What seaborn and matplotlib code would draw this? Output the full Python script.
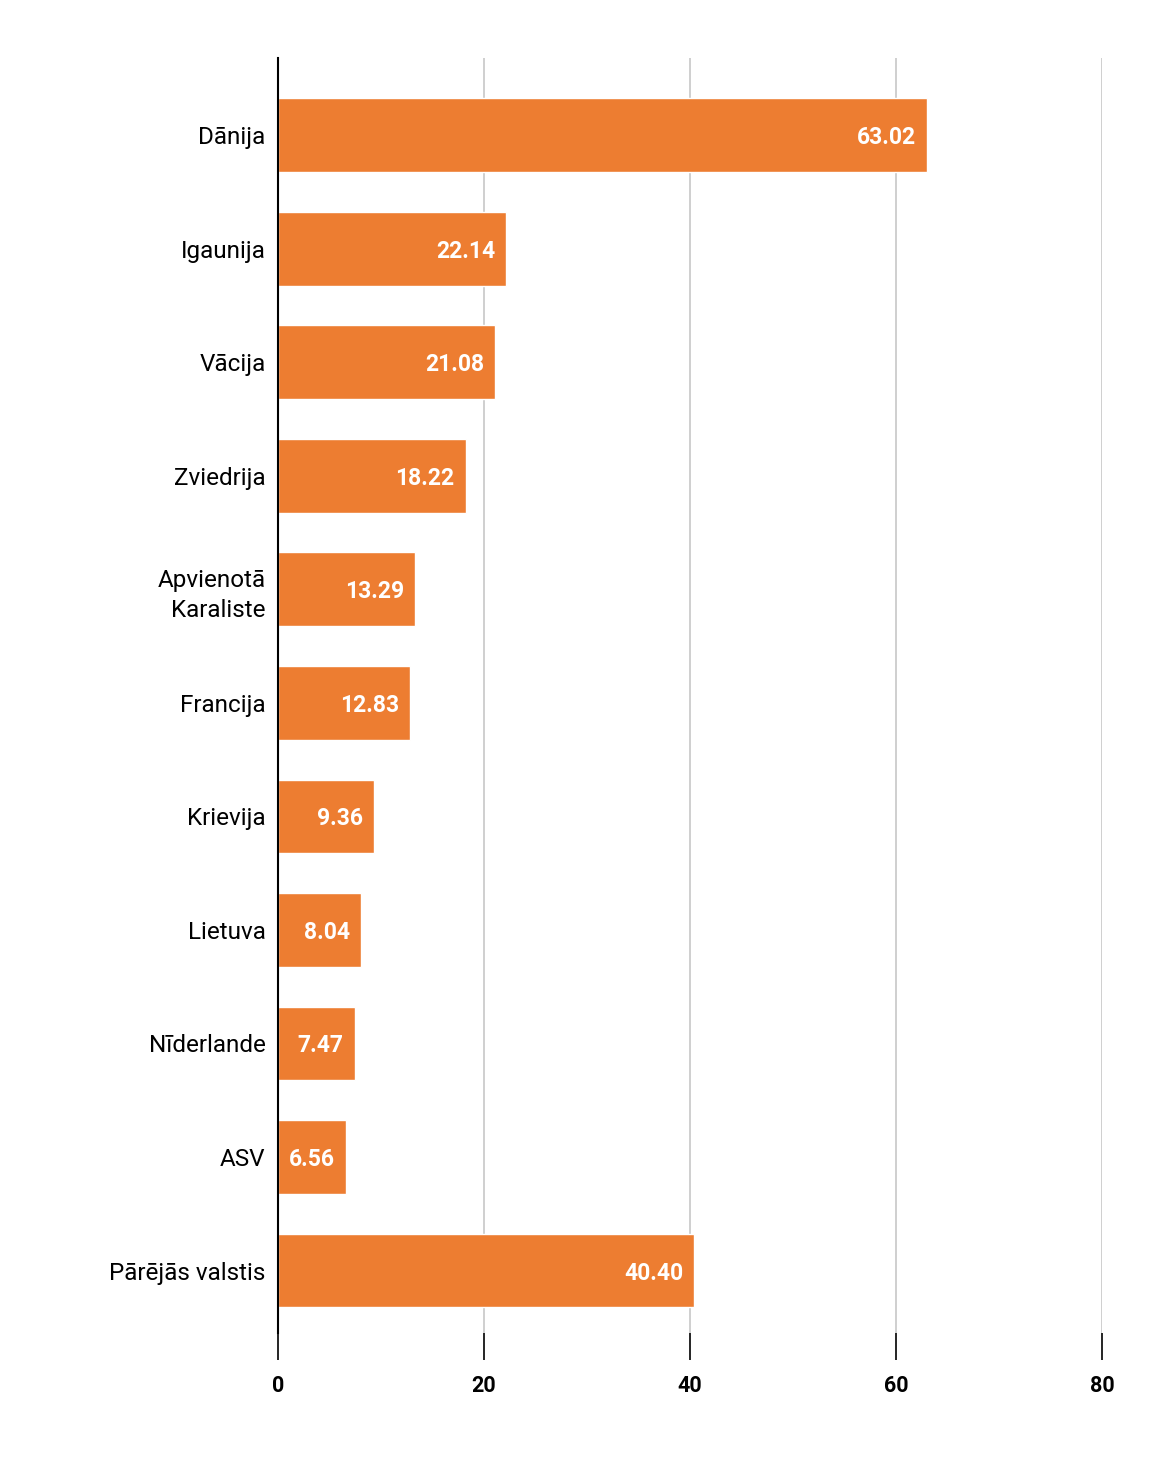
import matplotlib
matplotlib.use("Agg")
import matplotlib.pyplot as plt
import seaborn as sns
import pandas as pd

countries = ["Dānija", "Igaunija", "Vācija", "Zviedrija", "Apvienotā\nKaraliste",
             "Francija", "Krievija", "Lietuva", "Nīderlande", "ASV", "Pārējās valstis"]
values = [63.02, 22.14, 21.08, 18.22, 13.29, 12.83, 9.36, 8.04, 7.47, 6.56, 40.40]
x_ticks = [0, 20, 40, 60, 80]

sns.set_theme(style="white")
plt.rcParams['font.family'] = ['Roboto', 'DejaVu Sans']

df = pd.DataFrame({"country": countries, "value": values})

fig = plt.figure(figsize=(11.6, 14.58), dpi=100)
ax = fig.add_axes([278/1160, 1-1333/1458, (1102-278)/1160, (1333-58)/1458])

sns.barplot(data=df, y="country", x="value", color="#ED7D31", saturation=1,
            width=0.65, ax=ax, orient="h")

ax.set_xlim(0, 80)
ax.set_ylim(10.55, -0.68)
ax.set_xticks(x_ticks)
ax.set_xticklabels([str(t) for t in x_ticks], fontsize=15.5, fontweight="bold", color="black")
ax.set_xlabel("")
ax.set_ylabel("")
ax.xaxis.grid(True, color="#cccccc", linewidth=1.3)
ax.set_axisbelow(True)
for s in ["top", "right", "bottom"]:
    ax.spines[s].set_visible(False)
ax.spines["left"].set_color("black")
ax.spines["left"].set_linewidth(1.5)
ax.tick_params(axis="x", bottom=True, length=19.5, width=1.2, color="black", pad=11, direction="out")
ax.tick_params(axis="y", left=False, length=0, pad=9)
for lbl in ax.get_yticklabels():
    lbl.set_fontsize(17.5)
    lbl.set_color("black")
    lbl.set_multialignment("right")
    lbl.set_linespacing(1.4)

for cont in ax.containers:
    texts = ax.bar_label(cont, labels=[f"{v:.2f}" for v in values], padding=-8,
                         label_type="edge", color="white", fontsize=16.5, fontweight="bold")
    for t in texts:
        t.set_ha("right")
        t.set_va("center_baseline")

fig.savefig("out.png", dpi=100)
